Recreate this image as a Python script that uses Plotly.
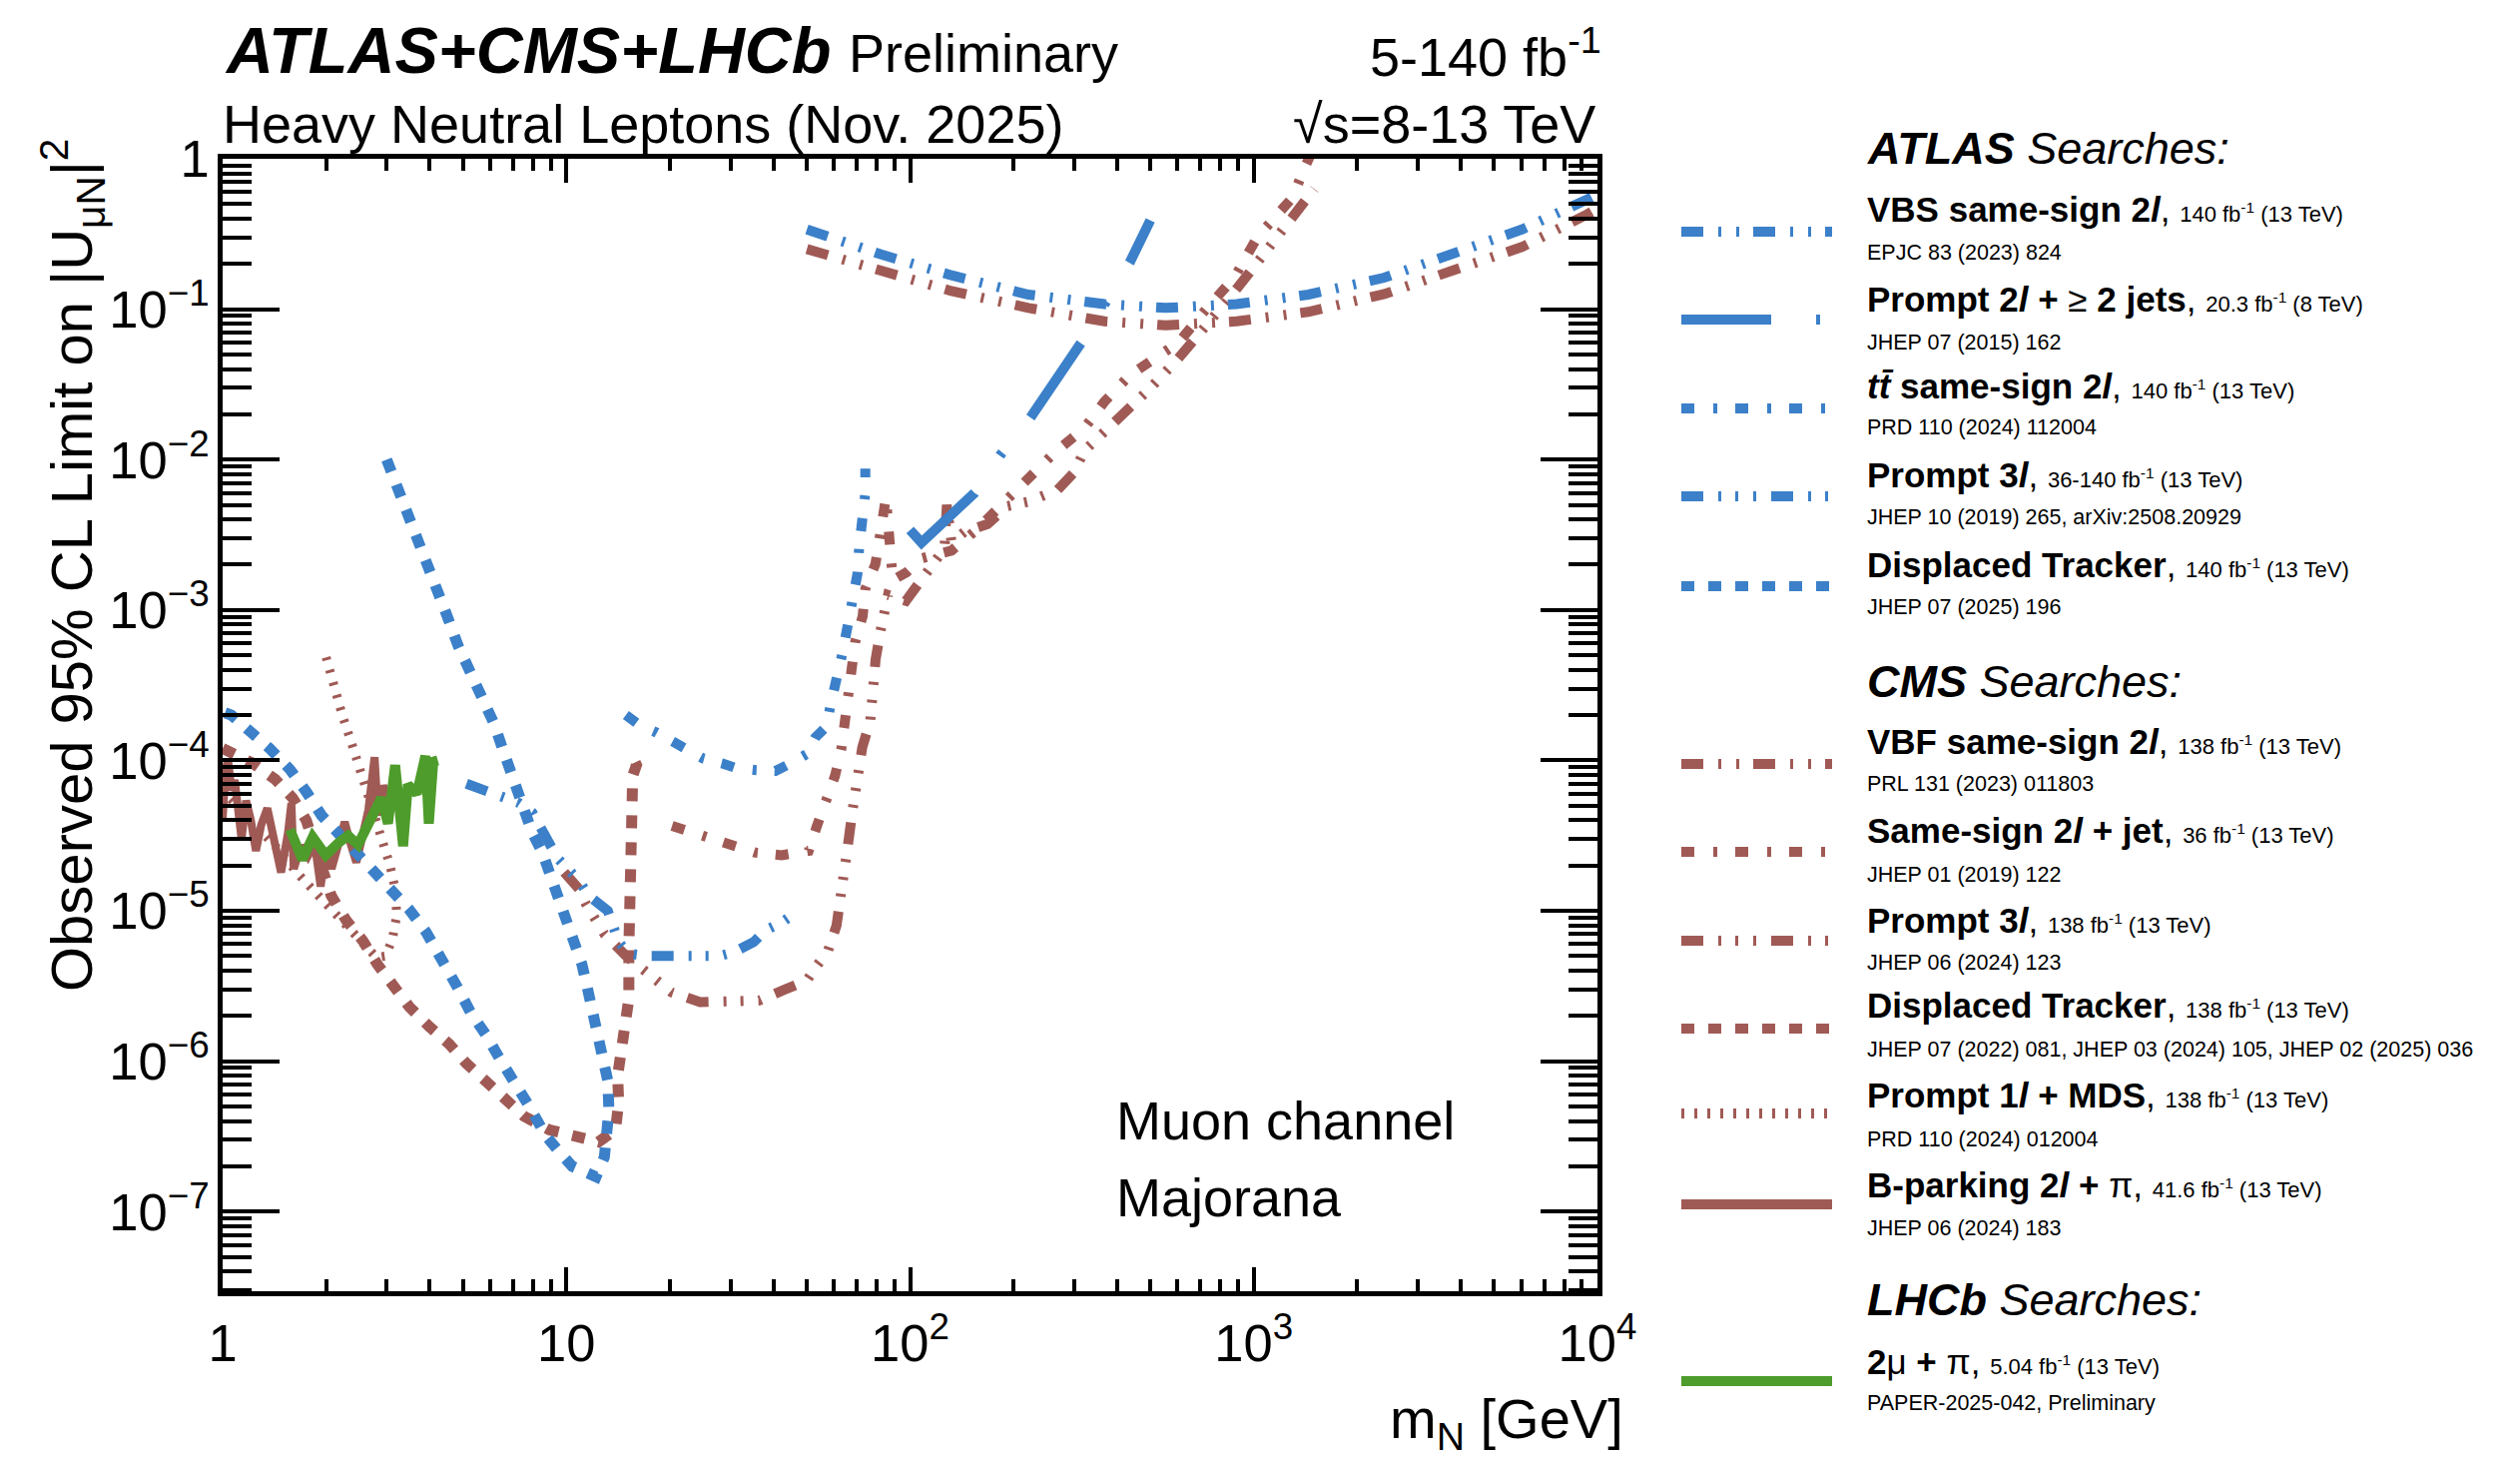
import plotly.graph_objects as go

# ---------------- data (mass in GeV, |U_muN|^2) ----------------
ATLAS_VBS_M = [50.1, 82.0, 132, 221, 368, 555, 891, 1442, 2399, 3981, 6026, 9333, 10000]
ATLAS_VBS_U = [0.339, 0.232, 0.168, 0.125, 0.108, 0.102, 0.108, 0.125, 0.162, 0.238, 0.339, 0.537, 0.582]

ATLAS_2L2J_M = [100, 108, 154, 183, 224, 315, 436, 500]
ATLAS_2L2J_U = [3.4e-3, 2.8e-3, 6.0e-3, 1.07e-2, 1.9e-2, 6.0e-2, 0.205, 0.39]

ATLAS_TTBAR_M = [14.9, 16.4, 18.3, 20.3, 22.4, 25.0, 28.6, 31.1, 35.7, 40.6, 44.3, 50.0,
                 53.0, 57.3, 58.6, 61.2, 63.5, 65.8, 68.1, 70.3, 71.1, 72.8, 74.1, 74.1]
ATLAS_TTBAR_U = [2.0e-4, 1.7e-4, 1.53e-4, 1.35e-4, 1.16e-4, 1.03e-4, 9.5e-5, 8.9e-5, 8.6e-5, 8.5e-5,
                 9.4e-5, 1.1e-4, 1.42e-4, 1.69e-4, 2.3e-4, 3.3e-4, 5.1e-4, 7.8e-4, 1.15e-3, 1.74e-3,
                 2.6e-3, 4.0e-3, 6.0e-3, 8.7e-3]

ATLAS_P3L_M = [5.12, 5.90, 6.49, 7.29, 7.96, 8.34, 8.91, 9.42, 10.9, 11.6, 13.2, 13.8, 14.2, 15.1,
               17.2, 19.6, 22.0, 24.8, 27.9, 30.7, 35.1, 37.9, 42.1, 47.4]
ATLAS_P3L_U = [7.0e-5, 6.3e-5, 5.9e-5, 5.2e-5, 4.5e-5, 3.7e-5, 2.75e-5, 2.24e-5, 1.58e-5, 1.26e-5,
               1.0e-5, 7.8e-6, 6.2e-6, 5.2e-6, 5.0e-6, 5.0e-6, 5.0e-6, 5.0e-6, 5.0e-6, 5.3e-6,
               6.2e-6, 7.4e-6, 8.3e-6, 1.0e-5]

ATLAS_DISP_M = [3.0, 3.24, 3.48, 3.70, 3.93, 4.2, 4.5, 4.84, 5.31, 5.74, 6.17, 6.52, 6.97, 7.45,
                7.96, 8.51, 9.10, 9.84, 10.5, 11.1, 11.5, 12.0, 12.4, 12.9, 13.2, 13.3, 13.2, 12.9,
                12.2, 11.4, 10.4, 9.53, 8.71, 7.80, 6.97, 6.38, 5.83, 5.27, 4.82, 4.37, 3.91, 3.49,
                3.05, 2.74, 2.44, 2.19, 1.94, 1.75, 1.57, 1.37, 1.21, 1.06, 1.0]
ATLAS_DISP_U = [1.0e-2, 6.2e-3, 4.2e-3, 2.9e-3, 1.96e-3, 1.34e-3, 9.1e-4, 5.8e-4, 3.7e-4, 2.55e-4,
                1.74e-4, 1.2e-4, 7.6e-5, 5.0e-5, 3.3e-5, 2.45e-5, 1.55e-5, 1.0e-5, 6.6e-6, 4.4e-6,
                3.1e-6, 2.0e-6, 1.6e-6, 1.07e-6, 7.4e-7, 4.7e-7, 3.2e-7, 2.3e-7, 1.7e-7, 1.8e-7,
                2.0e-7, 2.5e-7, 3.2e-7, 5.0e-7, 7.4e-7, 1.05e-6, 1.5e-6, 2.1e-6, 3.1e-6, 4.5e-6,
                7.2e-6, 1.02e-5, 1.4e-5, 1.8e-5, 2.45e-5, 3.2e-5, 4.3e-5, 6.2e-5, 8.7e-5, 1.2e-4,
                1.5e-4, 2.0e-4, 2.1e-4]

CMS_VBF_M = [50.1, 82.0, 132, 221, 368, 555, 891, 1442, 2399, 3981, 6026, 9333, 10000]
CMS_VBF_U = [0.251, 0.183, 0.132, 0.102, 0.083, 0.078, 0.083, 0.096, 0.126, 0.188, 0.259, 0.427, 0.468]

CMS_SS2LJ_M = [20.3, 25.1, 29.7, 35.3, 42.3, 50.7, 53.6, 57.3, 60.5, 63.1, 64.5, 66.2, 68.1, 69.2,
               72.8, 74.1, 79.3, 82.0, 85.1, 89.1, 97.7, 108, 132, 154, 186, 262, 321, 368, 437,
               604, 716, 879, 1023, 1153, 1300, 1393, 1479]
CMS_SS2LJ_U = [3.67e-5, 3.16e-5, 2.7e-5, 2.44e-5, 2.34e-5, 2.5e-5, 3.67e-5, 5.4e-5, 7.9e-5, 1.19e-4,
               1.78e-4, 2.68e-4, 4.07e-4, 6.1e-4, 9.1e-4, 1.38e-3, 2.02e-3, 3.04e-3, 5.6e-3, 1.58e-3,
               1.78e-3, 2.2e-3, 2.48e-3, 3.32e-3, 5.0e-3, 1.1e-2, 1.61e-2, 2.43e-2, 3.66e-2, 6.0e-2,
               9.6e-2, 0.163, 0.30, 0.415, 0.556, 0.836, 1.12]

CMS_P3L_M = [9.86, 10.9, 11.4, 12.1, 12.9, 14.8, 16.7, 18.5, 20.2, 24.5, 28.5, 32.4, 36.4, 43.2,
             50.1, 53.5, 57.7, 61.1, 62.4, 64.0, 64.7, 66.4, 68.1, 69.0, 70.8, 72.6, 76.6, 77.4,
             79.4, 82.0, 86.3, 97.3, 104, 121, 126, 128, 132, 144, 168, 192, 221, 269, 300, 321,
             363, 417, 501, 603, 708, 832, 977, 1122, 1259, 1500]
CMS_P3L_U = [1.8e-5, 1.39e-5, 1.11e-5, 8.8e-6, 7.0e-6, 5.1e-6, 4.0e-6, 3.35e-6, 2.87e-6, 2.47e-6,
             2.47e-6, 2.47e-6, 2.53e-6, 2.99e-6, 3.44e-6, 4.3e-6, 5.4e-6, 7.96e-6, 1.2e-5, 1.58e-5,
             2.1e-5, 3.07e-5, 4.74e-5, 6.1e-5, 8.1e-5, 1.22e-4, 1.83e-4, 2.42e-4, 4.7e-4, 7.2e-4,
             1.26e-3, 1.15e-3, 1.41e-3, 2.14e-3, 2.57e-3, 5.0e-3, 2.82e-3, 3.31e-3, 3.72e-3, 4.9e-3,
             5.25e-3, 6.3e-3, 8.2e-3, 1.14e-2, 1.48e-2, 2.0e-2, 3.0e-2, 4.7e-2, 7.1e-2, 0.112,
             0.178, 0.27, 0.38, 0.63]

CMS_DISP_M = [1.0, 1.22, 1.42, 1.60, 1.75, 2.07, 2.29, 2.56, 2.82, 3.13, 3.49, 3.99, 4.56, 5.11,
              5.83, 6.59, 7.53, 8.91, 10.6, 12.4, 13.9, 14.2, 14.1, 14.4, 14.7, 15.2, 15.2, 15.3,
              15.6, 16.0, 15.6]
CMS_DISP_U = [1.2e-4, 9.6e-5, 7.5e-5, 5.6e-5, 4.0e-5, 1.26e-5, 8.6e-6, 6.3e-6, 4.4e-6, 3.2e-6,
              2.3e-6, 1.7e-6, 1.3e-6, 9.7e-7, 7.3e-7, 5.5e-7, 4.3e-7, 3.5e-7, 3.2e-7, 2.9e-7,
              3.5e-7, 5.3e-7, 8.0e-7, 1.2e-6, 1.8e-6, 2.6e-6, 5.6e-6, 2.5e-5, 7.9e-5, 9.3e-5, 1.05e-4]

CMS_MDS_M = [2.0, 2.09, 2.23, 2.40, 2.58, 2.75, 2.92, 3.07, 3.18, 3.21, 3.12, 2.98, 2.80, 2.65,
             2.37, 2.03, 1.90, 1.77, 1.66, 1.41, 1.0]
CMS_MDS_U = [4.84e-4, 3.3e-4, 1.99e-4, 1.2e-4, 7.1e-5, 4.7e-5, 3.0e-5, 2.0e-5, 1.38e-5, 9.3e-6,
             6.5e-6, 5.0e-6, 4.9e-6, 5.6e-6, 7.2e-6, 1.05e-5, 1.26e-5, 1.47e-5, 1.75e-5, 2.75e-5, 6.3e-5]

CMS_BPARK_M = [1.0, 1.019, 1.037, 1.062, 1.084, 1.109, 1.135, 1.17, 1.208, 1.25, 1.294, 1.349, 1.413,
               1.479, 1.549, 1.585, 1.61, 1.69, 1.77, 1.853, 1.928, 1.995, 2.075, 2.168, 2.265,
               2.355, 2.449, 2.541, 2.655, 2.767, 2.831, 2.931, 3.027]
CMS_BPARK_U = [4.07e-5, 8.7e-5, 1.0e-4, 6.3e-5, 7.4e-5, 5.0e-5, 3.0e-5, 5.4e-5, 4.0e-5, 2.5e-5,
               3.7e-5, 4.8e-5, 3.0e-5, 1.8e-5, 3.3e-5, 5.2e-5, 1.9e-5, 2.7e-5, 2.3e-5, 2.8e-5,
               1.45e-5, 2.6e-5, 1.9e-5, 2.7e-5, 3.9e-5, 2.8e-5, 2.1e-5, 3.0e-5, 4.7e-5, 1.05e-4,
               4.3e-5, 6.8e-5, 5.5e-5]

LHCB_M = [1.57, 1.706, 1.828, 1.995, 2.168, 2.317, 2.477, 2.679, 2.897, 3.027, 3.177, 3.35, 3.459,
          3.673, 3.89, 3.98, 4.10, 4.227]
LHCB_U = [3.47e-5, 2.19e-5, 3.09e-5, 2.34e-5, 2.82e-5, 3.16e-5, 2.75e-5, 3.89e-5, 5.62e-5, 3.8e-5,
          9.3e-5, 2.69e-5, 6.9e-5, 6.0e-5, 1.07e-4, 3.8e-5, 9.8e-5, 1.0e-4]

# ---------------- styles ----------------
BLUE = "#3b80c9"
BROWN = "#a05a55"
GREEN = "#4e9c2b"
FONT = "Liberation Sans, Arial, Helvetica, sans-serif"

D_VBS = "22px,15px,3px,15px,3px,14px"
D_2L2J = "90px,45px,4px,45px"
D_TT = "13px,19px,4px,18px"
D_P3L = "22px,15px,3px,14px,3px,15px,3px,15px"
D_DISP = "13px,14px"
D_MDS = "3px,10px"

W, H = 2524, 1460
L, R, T, B = 223, 1600, 159, 1293

series = [
    (CMS_VBF_M, CMS_VBF_U, BROWN, D_VBS, 10),
    (CMS_SS2LJ_M, CMS_SS2LJ_U, BROWN, D_TT, 10),
    (CMS_P3L_M, CMS_P3L_U, BROWN, D_P3L, 10),
    (CMS_DISP_M, CMS_DISP_U, BROWN, D_DISP, 11),
    (CMS_MDS_M, CMS_MDS_U, BROWN, D_MDS, 9),
    (CMS_BPARK_M, CMS_BPARK_U, BROWN, "solid", 8),
    (ATLAS_VBS_M, ATLAS_VBS_U, BLUE, D_VBS, 10),
    (ATLAS_2L2J_M, ATLAS_2L2J_U, BLUE, D_2L2J, 10),
    (ATLAS_TTBAR_M, ATLAS_TTBAR_U, BLUE, D_TT, 10),
    (ATLAS_P3L_M, ATLAS_P3L_U, BLUE, D_P3L, 10),
    (ATLAS_DISP_M, ATLAS_DISP_U, BLUE, D_DISP, 11),
    (LHCB_M, LHCB_U, GREEN, "solid", 10),
]

fig = go.Figure()
for m, u, c, d, w in series:
    fig.add_trace(go.Scatter(x=m, y=u, mode="lines", showlegend=False, hoverinfo="skip",
                             line=dict(color=c, width=w, dash=d)))

# paper coordinates are relative to the plot area
def px(x):
    return (x - L) / (R - L)

def py(y):
    return (B - y) / (B - T)

ann = []
shapes = []

def text(x, y, s, size, xanchor="left", yanchor="middle", angle=0):
    ann.append(dict(x=px(x), y=py(y), xref="paper", yref="paper", text=s, showarrow=False,
                    xanchor=xanchor, yanchor=yanchor, textangle=angle,
                    font=dict(family=FONT, size=size, color="black")))

# header texts
text(L, 51, "<b><i>ATLAS+CMS+LHCb</i></b>", 65)
text(848, 53, "Preliminary", 54)
text(1606, 53, "5-140 fb<sup>-1</sup>", 54, xanchor="right")
text(L - 2, 124, "Heavy Neutral Leptons (Nov. 2025)", 54)
text(1600, 124, "\u221as=8-13 TeV", 54, xanchor="right")

# axis titles
text(72, 137, "Observed 95% CL Limit on |U<sub>\u03bcN</sub>|<sup>2</sup>", 58,
     xanchor="center", yanchor="top", angle=-90)
text(1628, 1425, "m<sub>N</sub> [GeV]", 56, xanchor="right")

# in-plot labels
text(1116, 1122, "Muon channel", 54)
text(1116, 1199, "Majorana", 54)

# legend
LX0, LX1, TX = 1684, 1835, 1870

def small(s):
    return "<span style='font-size:22px'>" + s + "</span>"

legend_rows = [
    ("head", 148, "<b><i>ATLAS</i></b><i> Searches:</i>"),
    ("item", 209, 232, 253, BLUE, D_VBS, "<b>VBS same-sign 2<i>l</i></b>, " + small("140 fb<sup>-1</sup> (13 TeV)"), "EPJC 83 (2023) 824"),
    ("item", 299, 320, 343, BLUE, D_2L2J, "<b>Prompt 2<i>l</i> + </b>\u2265<b> 2 jets</b>, " + small("20.3 fb<sup>-1</sup> (8 TeV)"), "JHEP 07 (2015) 162"),
    ("item", 386, 409, 428, BLUE, D_TT, "<b><i>t</i><i>t\u0304</i> same-sign 2<i>l</i></b>, " + small("140 fb<sup>-1</sup> (13 TeV)"), "PRD 110 (2024) 112004"),
    ("item", 475, 497, 518, BLUE, D_P3L, "<b>Prompt 3<i>l</i></b>, " + small("36-140 fb<sup>-1</sup> (13 TeV)"), "JHEP 10 (2019) 265, arXiv:2508.20929"),
    ("item", 565, 587, 608, BLUE, D_DISP, "<b>Displaced Tracker</b>, " + small("140 fb<sup>-1</sup> (13 TeV)"), "JHEP 07 (2025) 196"),
    ("head", 682, "<b><i>CMS</i></b><i> Searches:</i>"),
    ("item", 742, 765, 785, BROWN, D_VBS, "<b>VBF same-sign 2<i>l</i></b>, " + small("138 fb<sup>-1</sup> (13 TeV)"), "PRL 131 (2023) 011803"),
    ("item", 832, 853, 876, BROWN, D_TT, "<b>Same-sign 2<i>l</i> + jet</b>, " + small("36 fb<sup>-1</sup> (13 TeV)"), "JHEP 01 (2019) 122"),
    ("item", 921, 942, 964, BROWN, D_P3L, "<b>Prompt 3<i>l</i></b>, " + small("138 fb<sup>-1</sup> (13 TeV)"), "JHEP 06 (2024) 123"),
    ("item", 1006, 1030, 1051, BROWN, D_DISP, "<b>Displaced Tracker</b>, " + small("138 fb<sup>-1</sup> (13 TeV)"), "JHEP 07 (2022) 081, JHEP 03 (2024) 105, JHEP 02 (2025) 036"),
    ("item", 1096, 1115, 1141, BROWN, D_MDS, "<b>Prompt 1<i>l</i> + MDS</b>, " + small("138 fb<sup>-1</sup> (13 TeV)"), "PRD 110 (2024) 012004"),
    ("item", 1186, 1206, 1230, BROWN, "solid", "<b>B-parking 2<i>l</i> + </b>\u03c0, " + small("41.6 fb<sup>-1</sup> (13 TeV)"), "JHEP 06 (2024) 183"),
    ("head", 1301, "<b><i>LHCb</i></b><i> Searches:</i>"),
    ("item", 1363, 1383, 1405, GREEN, "solid", "<b>2</b>\u03bc<b> + </b>\u03c0, " + small("5.04 fb<sup>-1</sup> (13 TeV)"), "PAPER-2025-042, Preliminary"),
]

for row in legend_rows:
    if row[0] == "head":
        text(TX - 2, row[1], row[2], 45)
    else:
        _, ty, ly, ry, col, dash, title, ref = row
        text(TX - 2, ty, title, 35)
        text(TX - 2, ry, ref, 21.5)
        shapes.append(dict(type="line", xref="paper", yref="paper", x0=px(LX0), x1=px(LX1),
                           y0=py(ly), y1=py(ly), line=dict(color=col, width=10, dash=dash)))

axis_common = dict(type="log", showline=True, linewidth=5, linecolor="black", mirror="ticks",
                   ticks="inside", tickwidth=4, tickcolor="black", dtick=1,
                   exponentformat="power", showgrid=False, zeroline=False,
                   tickfont=dict(family=FONT, size=42, color="black"))

fig.update_layout(
    width=W, height=H,
    margin=dict(l=L, r=W - R, t=T, b=H - B, pad=0),
    paper_bgcolor="white", plot_bgcolor="white",
    xaxis=dict(range=[0, 4], ticklen=24, ticklabelstandoff=4,
               minor=dict(ticks="inside", ticklen=12, tickwidth=4, tickcolor="black", dtick="D1"),
               **axis_common),
    yaxis=dict(range=[-7.53, 0], ticklen=57, ticklabelstandoff=0,
               minor=dict(ticks="inside", ticklen=29, tickwidth=4, tickcolor="black", dtick="D1"),
               **axis_common),
    annotations=ann, shapes=shapes,
    font=dict(family=FONT, color="black"),
)

fig.write_html("out.html")
